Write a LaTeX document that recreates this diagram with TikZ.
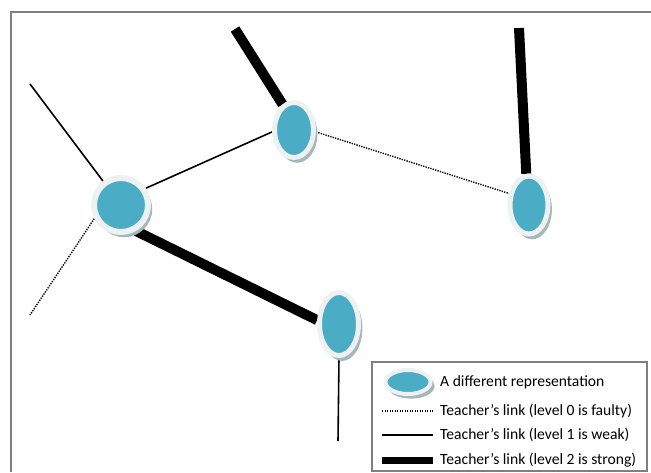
\documentclass[tikz,border=0pt]{standalone}
\usepackage{fontspec}
\setmainfont{Carlito}
\usetikzlibrary{positioning,shapes.geometric,shadows,backgrounds}
\definecolor{repblue}{HTML}{4BACC6}
\definecolor{ringgray}{HTML}{EEF1F2}
\definecolor{shadegray}{HTML}{A3B7BD}
\definecolor{framegray}{HTML}{7F7F7F}

\begin{document}
\begin{tikzpicture}[x=1pt,y=-1pt,
    rep/.style={ellipse,fill=repblue,draw=ringgray,line width=5pt,inner sep=0pt,
      drop shadow={shadow xshift=3pt,shadow yshift=-4pt,shadow scale=1.04,fill=shadegray,opacity=1}},
    faulty/.style={line width=1.4pt,dash pattern=on 1.3pt off 1.2pt},
    weak/.style={line width=1.6pt},
    strong/.style={line width=10pt},
    keystrong/.style={line width=7pt},
    txt/.style={anchor=west,inner sep=0pt,font=\fontsize{15.6}{18}\selectfont}]
  \useasboundingbox (0,0) rectangle (651,472);
  \draw[framegray,line width=1.5pt] (651,12) -- (11,12) -- (11,472);

  % representations
  \node[rep,line width=6pt,minimum width=54pt,minimum height=54pt] (a) at (121,205) {};
  \node[rep,minimum width=39pt,minimum height=55pt] (b) at (294,130) {};
  \node[rep,minimum width=38pt,minimum height=58pt] (c) at (529,205) {};
  \node[rep,minimum width=39pt,minimum height=63pt] (d) at (339,324) {};

  \coordinate (atl) at (30,84);
  \coordinate (abl) at (30,315);
  \coordinate (btop) at (235,29);
  \coordinate (ctop) at (519,28);
  \coordinate (dbot) at (338,441);

  % teacher's links
  \begin{scope}[on background layer]
    \draw[weak] (a.127) -- (atl);
    \draw[faulty] (a.207) -- (abl);
    \draw[weak] (a.34) -- (b.185);
    \draw[strong] (a.-60) -- (d.170);
    \draw[strong] (b.114) -- (btop);
    \draw[faulty] (b.-5) -- (c.150);
    \draw[strong] (c.95) -- (ctop);
    \draw[weak] (d.south) -- (dbot);
  \end{scope}

  % legend
  \draw[framegray,line width=1.3pt] (372,362) rectangle (647,471);
  \node[rep,line width=4pt,minimum width=45pt,minimum height=24pt] (key) at (408,382) {};
  \node[txt] (keytext) at (440,382) {A different representation};
  \foreach \lv/\sty/\y/\word in {0/faulty/411/faulty,1/weak/435/weak,2/keystrong/460/strong}{
    \node[txt] (l\lv) at (440,\y) {Teacher’s link (level \lv\ is \word)};
    \draw[\sty] ([xshift=-58pt]l\lv.west) -- ([xshift=-7pt]l\lv.west);
  }
\end{tikzpicture}
\end{document}
